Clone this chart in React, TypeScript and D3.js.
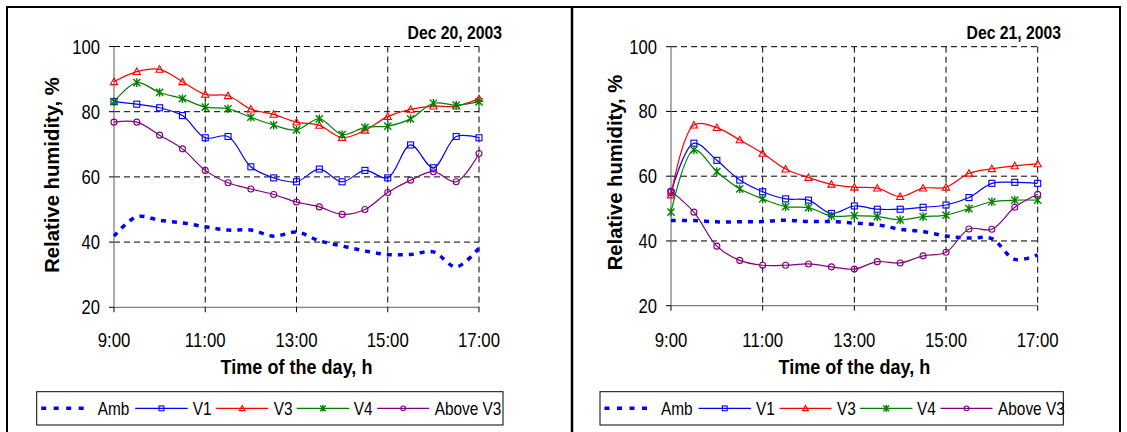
import React from "react";
import * as d3 from "d3";

// ---------- data ----------
const hours = [9, 9.5, 10, 10.5, 11, 11.5, 12, 12.5, 13, 13.5, 14, 14.5, 15, 15.5, 16, 16.5, 17];
const xTickHours = [9, 11, 13, 15, 17];
const xTickLabels = ["9:00", "11:00", "13:00", "15:00", "17:00"];
const yTicks = [20, 40, 60, 80, 100];
const seriesNames = ["Amb", "V1", "V3", "V4", "Above V3"];

const dec20Amb = [41.8, 47.8, 46.7, 45.9, 44.7, 43.7, 43.7, 41.8, 43.1, 40.4, 38.8, 37.3, 36.2, 36.2, 37.0, 32.4, 38.2];
const dec20V1 = [83.1, 82.3, 81.2, 78.8, 72.0, 72.4, 63.1, 59.7, 58.5, 62.4, 58.5, 62.0, 59.7, 69.8, 62.8, 72.4, 72.0];
const dec20V3 = [89.2, 92.3, 93.0, 89.2, 85.3, 84.9, 80.8, 79.2, 76.8, 75.8, 72.1, 74.3, 78.5, 80.7, 81.7, 81.7, 84.0];
const dec20V4 = [83.1, 88.9, 85.9, 84.0, 81.4, 80.9, 78.3, 75.9, 74.4, 77.8, 73.0, 75.2, 75.6, 77.8, 82.6, 82.0, 83.0];
const dec20Above = [76.8, 76.8, 72.8, 68.6, 62.0, 58.2, 56.3, 54.6, 52.3, 50.8, 48.5, 50.0, 55.2, 59.0, 61.6, 58.5, 67.2];

const dec21Amb = [46.3, 46.3, 45.9, 45.9, 46.0, 46.4, 46.0, 46.0, 45.5, 45.0, 43.6, 42.9, 41.5, 40.9, 40.7, 34.3, 35.7];
const dec21V1 = [54.9, 70.2, 64.9, 58.8, 55.2, 53.0, 52.6, 48.5, 50.8, 49.8, 49.8, 50.4, 51.1, 53.4, 57.8, 58.1, 57.8];
const dec21V3 = [54.2, 75.8, 75.0, 71.2, 67.1, 62.2, 59.6, 57.5, 56.6, 56.3, 53.7, 56.3, 56.6, 60.9, 62.3, 63.2, 63.8];
const dec21V4 = [48.9, 68.1, 61.4, 56.1, 53.0, 50.6, 50.3, 47.7, 47.8, 47.5, 46.5, 47.5, 48.0, 50.0, 52.1, 52.6, 52.6];
const dec21Above = [55.4, 48.9, 38.4, 34.0, 32.5, 32.5, 32.9, 32.0, 31.3, 33.6, 33.2, 35.4, 36.5, 43.7, 43.6, 50.4, 54.4];

// ---------- styling ----------
const FONT = "'Liberation Sans', Arial, sans-serif";
const styles: Record<string, { color: string; marker: string; dotted?: boolean }> = {
  Amb: { color: "#0000FF", marker: "none", dotted: true },
  V1: { color: "#0000FF", marker: "square" },
  V3: { color: "#FF0000", marker: "triangle" },
  V4: { color: "#008000", marker: "star" },
  "Above V3": { color: "#800080", marker: "circle" },
};

function Txt(props: {
  x: number; y: number; text: string; size: number; sx?: number; anchor?: string; bold?: boolean; rotate?: number;
}) {
  const { x, y, text, size, sx = 1, anchor = "start", bold = false, rotate = 0 } = props;
  return (
    <g transform={`translate(${x},${y}) rotate(${rotate}) scale(${sx},1)`}>
      <text textAnchor={anchor} fontFamily={FONT} fontSize={size} fontWeight={bold ? "bold" : "normal"} fill="#000">
        {text}
      </text>
    </g>
  );
}

function Marker({ type, x, y, color, s = 1 }: { type: string; x: number; y: number; color: string; s?: number }) {
  if (type === "square") {
    const h = 3 * s;
    return <rect x={x - h} y={y - h} width={2 * h} height={2 * h} fill="none" stroke={color} strokeWidth={1.1} />;
  }
  if (type === "triangle") {
    const h = 3.6 * s;
    const d = `M${x},${y - h}L${x + h},${y + h * 0.8}L${x - h},${y + h * 0.8}Z`;
    return <path d={d} fill="none" stroke={color} strokeWidth={1.1} />;
  }
  if (type === "circle") {
    return <circle cx={x} cy={y} r={3 * s} fill="none" stroke={color} strokeWidth={1.1} />;
  }
  if (type === "star") {
    const h = 3.6 * s;
    const d = `M${x - h},${y - h}L${x + h},${y + h}M${x - h},${y + h}L${x + h},${y - h}M${x},${y - h * 1.2}L${x},${y + h * 1.2}`;
    return <path d={d} fill="none" stroke={color} strokeWidth={1.4} />;
  }
  return null;
}

type PanelProps = {
  x0: number; x1: number; yTop: number; yBot: number;
  title: string; titleX: number;
  data: number[][];
  yLabelX: number; yLabelY: number;
  legendLeft: number; legendRight: number;
};

function Panel(p: PanelProps) {
  const x = d3.scaleLinear().domain([9, 17]).range([p.x0, p.x1]);
  const y = d3.scaleLinear().domain([20, 100]).range([p.yBot, p.yTop]);
  const line = d3
    .line<number>()
    .x((_, i) => x(hours[i]))
    .y((v) => y(v))
    .curve(d3.curveCatmullRom.alpha(0.5));

  const legendOffsets = [
    { ls: 4.5, le: 49, tx: 61 },
    { ls: 98.5, le: 151, tx: 156 },
    { ls: 179.5, le: 231.5, tx: 237 },
    { ls: 260, le: 312.5, tx: 317 },
    { ls: 340.5, le: 392.5, tx: 398 },
  ];
  const legTop = 391.7;
  const legBot = 425;
  const legMid = (legTop + legBot) / 2;

  return (
    <g>
      {/* gridlines */}
      {yTicks.filter((t) => t > 20).map((t) => (
        <line key={"gy" + t} x1={p.x0} x2={p.x1} y1={y(t)} y2={y(t)} stroke="#000" strokeWidth={1} strokeDasharray="6,4" />
      ))}
      {xTickHours.filter((h) => h > 9).map((h) => (
        <line key={"gx" + h} x1={x(h)} x2={x(h)} y1={p.yTop} y2={p.yBot} stroke="#000" strokeWidth={1} strokeDasharray="6,4" />
      ))}
      {/* axes */}
      <line x1={p.x0} x2={p.x0} y1={p.yTop} y2={p.yBot} stroke="#808080" strokeWidth={1.3} />
      <line x1={p.x0} x2={p.x1} y1={p.yBot} y2={p.yBot} stroke="#808080" strokeWidth={1.3} />
      {yTicks.map((t) => (
        <line key={"ty" + t} x1={p.x0 - 5} x2={p.x0} y1={y(t)} y2={y(t)} stroke="#000" strokeWidth={1} />
      ))}
      {xTickHours.map((h) => (
        <line key={"tx" + h} x1={x(h)} x2={x(h)} y1={p.yBot} y2={p.yBot + 5} stroke="#000" strokeWidth={1} />
      ))}
      {yTicks.map((t) => (
        <Txt key={"ly" + t} x={p.x0 - 14} y={y(t) + 7} text={String(t)} size={20} sx={0.83} anchor="end" />
      ))}
      {xTickHours.map((h, i) => (
        <Txt key={"lx" + h} x={x(h)} y={347} text={xTickLabels[i]} size={20} sx={0.84} anchor="middle" />
      ))}
      {/* series */}
      {seriesNames.map((name, si) => {
        const st = styles[name];
        return (
          <g key={name}>
            <path
              d={line(p.data[si]) || ""}
              fill="none"
              stroke={st.color}
              strokeWidth={st.dotted ? 3.5 : 1.2}
              strokeDasharray={st.dotted ? "5,6" : undefined}
            />
            {p.data[si].map((v, i) => (
              <Marker key={i} type={st.marker} x={x(hours[i])} y={y(v)} color={st.color} />
            ))}
          </g>
        );
      })}
      {/* titles */}
      <Txt x={p.titleX} y={39} text={p.title} size={17.5} sx={0.9} anchor="end" bold />
      <Txt x={(p.x0 + p.x1) / 2} y={374} text="Time of the day, h" size={21} sx={0.86} anchor="middle" bold />
      <Txt x={p.yLabelX} y={p.yLabelY} text="Relative humidity, %" size={20.3} anchor="middle" bold rotate={-90} />
      {/* legend */}
      <rect x={p.legendLeft} y={legTop} width={p.legendRight - p.legendLeft} height={legBot - legTop} fill="#fff" stroke="#000" strokeWidth={1} />
      {seriesNames.map((name, si) => {
        const st = styles[name];
        const o = legendOffsets[si];
        const lx1 = p.legendLeft + o.ls;
        const lx2 = p.legendLeft + o.le;
        return (
          <g key={"leg" + name}>
            <line
              x1={lx1} x2={lx2} y1={legMid} y2={legMid}
              stroke={st.color}
              strokeWidth={st.dotted ? 3.5 : 1.2}
              strokeDasharray={st.dotted ? "5,7.5" : undefined}
            />
            <Marker type={st.marker} x={(lx1 + lx2) / 2} y={legMid} color={st.color} s={0.8} />
            <Txt x={p.legendLeft + o.tx} y={legMid + 6.5} text={name} size={17.5} sx={0.88} />
          </g>
        );
      })}
    </g>
  );
}

export default function App() {
  return (
    <svg
      width={1127}
      height={432}
      viewBox="0 0 1127 432"
      style={{ position: "absolute", left: 0, top: 0, background: "#fff" }}
    >
      <rect x={0} y={0} width={1127} height={432} fill="#fff" />
      {/* frame */}
      <line x1={7} x2={1120} y1={7} y2={7} stroke="#000" strokeWidth={2} />
      <line x1={7} x2={7} y1={6} y2={432} stroke="#000" strokeWidth={2} />
      <line x1={572} x2={572} y1={6} y2={432} stroke="#000" strokeWidth={2.5} />
      <line x1={1120} x2={1120} y1={6} y2={432} stroke="#000" strokeWidth={2} />
      <Panel
        x0={114} x1={479} yTop={46.5} yBot={307.3}
        title="Dec 20, 2003" titleX={502}
        data={[dec20Amb, dec20V1, dec20V3, dec20V4, dec20Above]}
        yLabelX={59} yLabelY={175}
        legendLeft={36.7} legendRight={503}
      />
      <Panel
        x0={671} x1={1037.7} yTop={46.7} yBot={305.7}
        title="Dec 21, 2003" titleX={1061}
        data={[dec21Amb, dec21V1, dec21V3, dec21V4, dec21Above]}
        yLabelX={622} yLabelY={172.5}
        legendLeft={600} legendRight={1063.3}
      />
    </svg>
  );
}
